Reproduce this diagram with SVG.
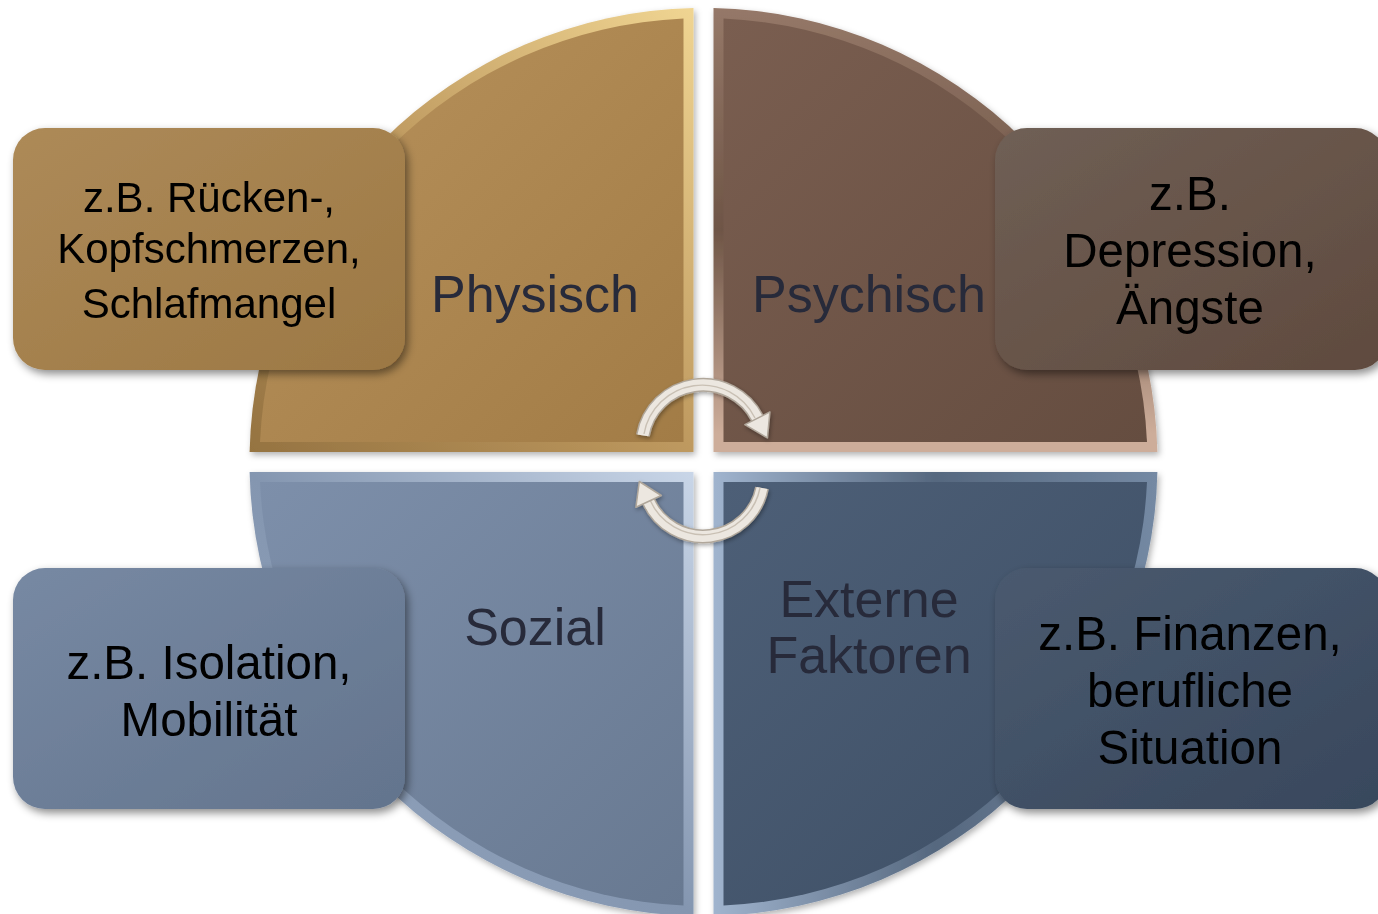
<svg xmlns="http://www.w3.org/2000/svg" width="1378" height="914" viewBox="0 0 1378 914">
<style>
.qlabel{font-family:"Liberation Sans",Arial,sans-serif;font-size:52px;fill:#272A3A;text-anchor:middle}
.blabel{font-family:"Liberation Sans",Arial,sans-serif;font-size:47.5px;fill:#000;text-anchor:middle}
.blabel-s{font-family:"Liberation Sans",Arial,sans-serif;font-size:42px;fill:#000;text-anchor:middle}
.arrow-out{fill:none;stroke:#B0A79B;stroke-width:14}
.arrow-in{fill:none;stroke:#ECE7E0;stroke-width:11}
.arrow-groove{fill:none;stroke:#C9C0B4;stroke-width:1.4}
.head{fill:#ECE7E0;stroke:#B0A79B;stroke-width:1.5;stroke-linejoin:round}
</style>
<defs>
<filter id="qshadow" x="-10%" y="-10%" width="120%" height="120%">
<feDropShadow dx="2" dy="3" stdDeviation="3" flood-color="#000" flood-opacity="0.3"/>
</filter>
<filter id="bshadow" x="-10%" y="-10%" width="125%" height="125%">
<feDropShadow dx="3" dy="4" stdDeviation="4" flood-color="#000" flood-opacity="0.45"/>
</filter>
<filter id="ashadow" x="-20%" y="-20%" width="140%" height="140%">
<feDropShadow dx="1" dy="2" stdDeviation="2" flood-color="#000" flood-opacity="0.35"/>
</filter>
<linearGradient id="tlBevel" x1="1" y1="0" x2="0" y2="1">
<stop offset="0" stop-color="#F0D592"/><stop offset="0.5" stop-color="#BE995F"/><stop offset="1" stop-color="#957341"/>
</linearGradient>
<linearGradient id="tlMain" x1="0" y1="0" x2="1" y2="1">
<stop offset="0" stop-color="#B8925C"/><stop offset="1" stop-color="#A27C46"/>
</linearGradient>
<linearGradient id="trBevel" x1="0" y1="0" x2="0" y2="1">
<stop offset="0" stop-color="#957868"/><stop offset="0.5" stop-color="#6E5546"/><stop offset="0.96" stop-color="#CDAD9A"/>
</linearGradient>
<linearGradient id="trMain" x1="0" y1="0" x2="1" y2="1">
<stop offset="0" stop-color="#7A5E50"/><stop offset="1" stop-color="#654D40"/>
</linearGradient>
<linearGradient id="blBevel" x1="1" y1="0" x2="0" y2="1">
<stop offset="0" stop-color="#C9D6E8"/><stop offset="0.5" stop-color="#8496B0"/><stop offset="1" stop-color="#95A7C0"/>
</linearGradient>
<linearGradient id="blMain" x1="0" y1="0" x2="1" y2="1">
<stop offset="0" stop-color="#7D8FAA"/><stop offset="1" stop-color="#687991"/>
</linearGradient>
<linearGradient id="brBevel" x1="0" y1="0" x2="1" y2="0">
<stop offset="0" stop-color="#A0B4CE"/><stop offset="0.5" stop-color="#56687F"/><stop offset="1" stop-color="#7489A3"/>
</linearGradient>
<linearGradient id="brMain" x1="0" y1="0" x2="1" y2="1">
<stop offset="0" stop-color="#4D5F77"/><stop offset="1" stop-color="#3D4E64"/>
</linearGradient>
<linearGradient id="tlBox" x1="0" y1="0" x2="1" y2="1">
<stop offset="0" stop-color="#AD8A58"/><stop offset="1" stop-color="#9C7844"/>
</linearGradient>
<linearGradient id="trBox" x1="0" y1="0" x2="1" y2="1">
<stop offset="0" stop-color="#6F5F55"/><stop offset="1" stop-color="#5F4A3E"/>
</linearGradient>
<linearGradient id="blBox" x1="0" y1="0" x2="1" y2="1">
<stop offset="0" stop-color="#7789A3"/><stop offset="1" stop-color="#63748D"/>
</linearGradient>
<linearGradient id="brBox" x1="0" y1="0" x2="1" y2="1">
<stop offset="0" stop-color="#4A5A6F"/><stop offset="1" stop-color="#38475C"/>
</linearGradient>
</defs>
<rect width="1378" height="914" fill="#FFFFFF"/>

<g id="quadrant-physisch">
<path filter="url(#qshadow)" fill="url(#tlBevel)" d="M693.5 8.1 A454 454 0 0 0 249.6 452 L693.5 452 Z"/>
<path fill="url(#tlMain)" d="M683.5 18.5 A444 444 0 0 0 260 442 L683.5 442 Z"/>
<text class="qlabel" x="535" y="312">Physisch</text>
</g>
<g id="quadrant-psychisch">
<path filter="url(#qshadow)" fill="url(#trBevel)" d="M713.5 8.1 A454 454 0 0 1 1157.4 452 L713.5 452 Z"/>
<path fill="url(#trMain)" d="M723.5 18.5 A444 444 0 0 1 1147 442 L723.5 442 Z"/>
<text class="qlabel" x="869" y="312">Psychisch</text>
</g>
<g id="quadrant-sozial">
<path filter="url(#qshadow)" fill="url(#blBevel)" d="M249.6 472 A454 454 0 0 0 693.5 915.9 L693.5 472 Z"/>
<path fill="url(#blMain)" d="M260 482 A444 444 0 0 0 683.5 905.5 L683.5 482 Z"/>
<text class="qlabel" x="535" y="645">Sozial</text>
</g>
<g id="quadrant-extern">
<path filter="url(#qshadow)" fill="url(#brBevel)" d="M1157.4 472 A454 454 0 0 1 713.5 915.9 L713.5 472 Z"/>
<path fill="url(#brMain)" d="M1147 482 A444 444 0 0 1 723.5 905.5 L723.5 482 Z"/>
<text class="qlabel" x="869" y="617">Externe</text>
<text class="qlabel" x="869" y="673">Faktoren</text>
</g>

<g id="connectors" filter="url(#ashadow)">
<path class="arrow-out" d="M642.9 435.4 A61 61 0 0 1 757.4 418.3"/>
<path class="arrow-in" d="M642.9 435.4 A61 61 0 0 1 757.4 418.3"/>
<path class="arrow-groove" d="M644 434 A59 59 0 0 1 755 418"/>
<polygon class="head" points="769.9,411.9 744.9,424.7 767.4,437.9"/>
<path class="arrow-out" d="M762 488 A60 60 0 0 1 648.6 501.4"/>
<path class="arrow-in" d="M762 488 A60 60 0 0 1 648.6 501.4"/>
<path class="arrow-groove" d="M760 488 A58 58 0 0 1 650 500"/>
<polygon class="head" points="635.9,507.3 661.3,495.5 639.3,481.5"/>
</g>

<g id="box-physisch" filter="url(#bshadow)">
<rect x="13" y="128" width="392" height="242" rx="32" fill="url(#tlBox)"/>
<text class="blabel-s" x="209" y="212">z.B. Rücken-,</text>
<text class="blabel-s" x="209" y="263">Kopfschmerzen,</text>
<text class="blabel-s" x="209" y="318">Schlafmangel</text>
</g>
<g id="box-psychisch" filter="url(#bshadow)">
<rect x="995" y="128" width="392" height="242" rx="32" fill="url(#trBox)"/>
<text class="blabel" x="1190" y="210">z.B.</text>
<text class="blabel" x="1190" y="267">Depression,</text>
<text class="blabel" x="1190" y="324">Ängste</text>
</g>
<g id="box-sozial" filter="url(#bshadow)">
<rect x="13" y="568" width="392" height="241" rx="32" fill="url(#blBox)"/>
<text class="blabel" x="209" y="679">z.B. Isolation,</text>
<text class="blabel" x="209" y="736">Mobilität</text>
</g>
<g id="box-extern" filter="url(#bshadow)">
<rect x="995" y="568" width="392" height="241" rx="32" fill="url(#brBox)"/>
<text class="blabel" x="1190" y="650">z.B. Finanzen,</text>
<text class="blabel" x="1190" y="707">berufliche</text>
<text class="blabel" x="1190" y="764">Situation</text>
</g>
</svg>
